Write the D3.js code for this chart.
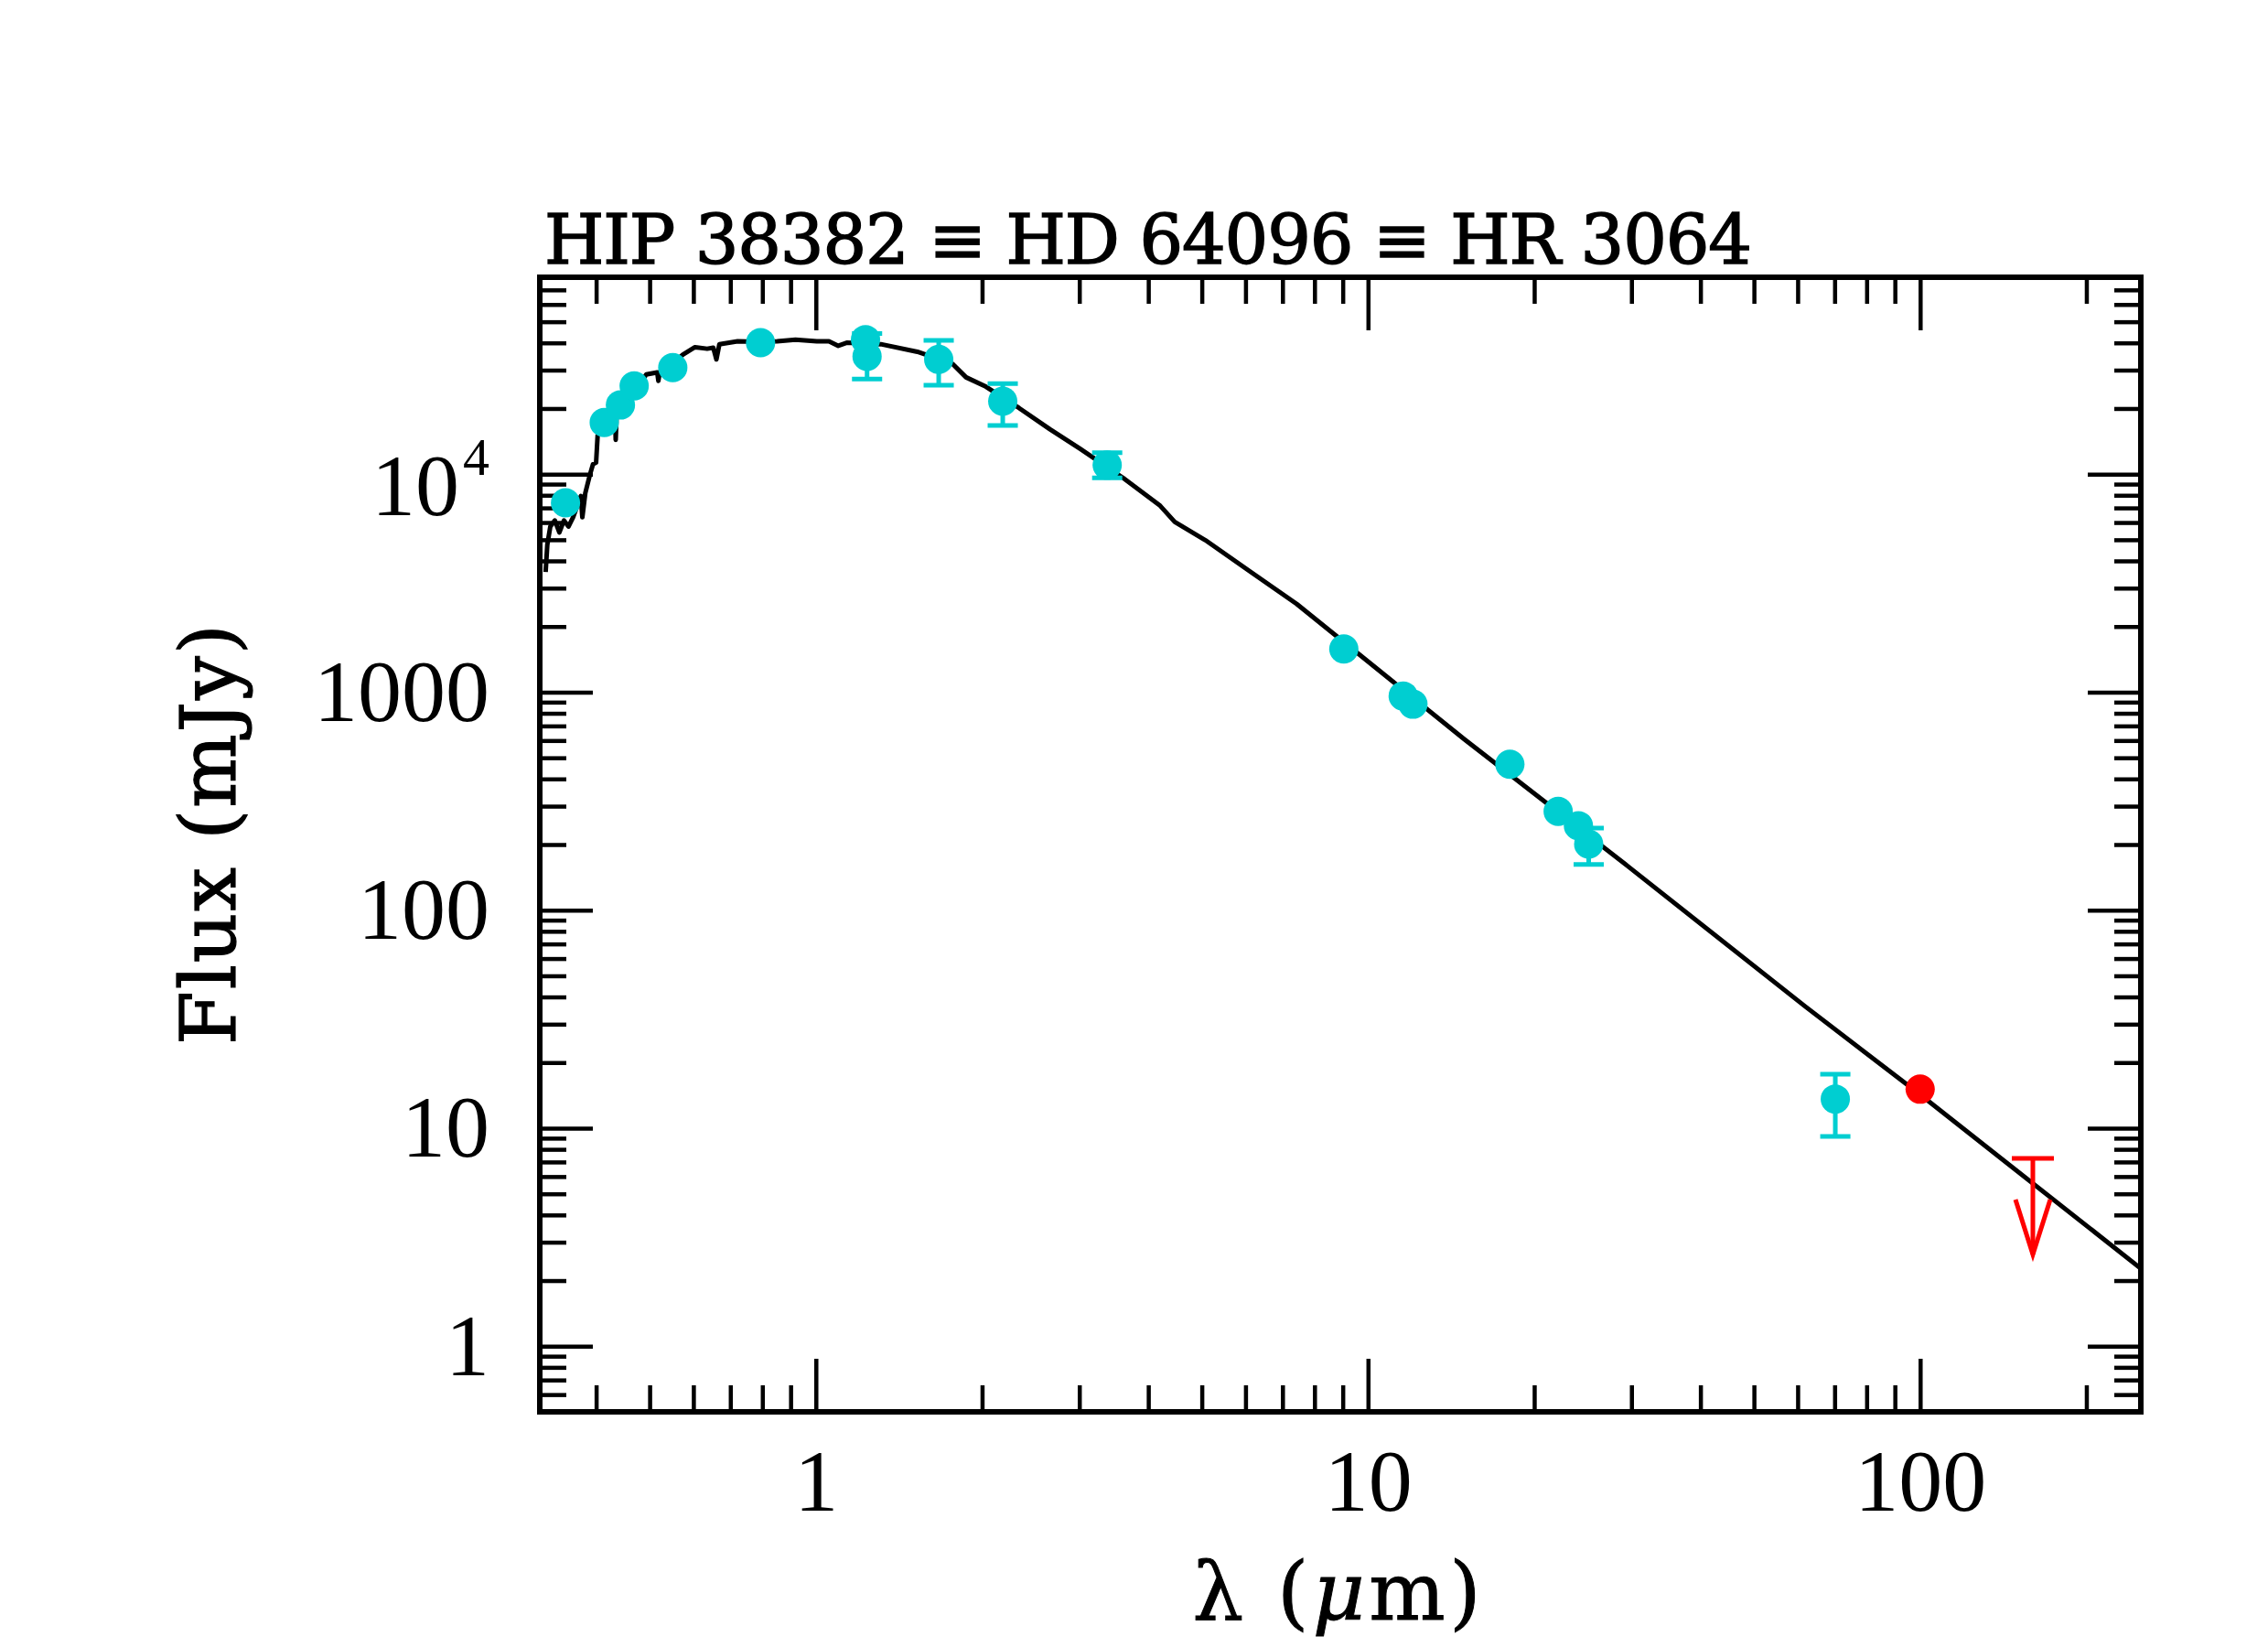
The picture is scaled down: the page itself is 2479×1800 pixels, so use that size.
<!DOCTYPE html>
<html>
<head>
<meta charset="utf-8">
<script src="https://cdn.jsdelivr.net/npm/d3@7"></script>
<style>
  body { margin: 0; background: #fff; }
  svg { display: block; }
</style>
</head>
<body>
<div id="chart"></div>
<script>
// photosphere model
var modelWave = [0.324, 0.3263, 0.3304, 0.3367, 0.3431, 0.3497, 0.3565, 0.3633, 0.3753, 0.3776,
  0.3823, 0.3897, 0.3948, 0.3999, 0.4025, 0.4102, 0.425, 0.433, 0.434, 0.4355,
  0.4426, 0.4687, 0.4928, 0.516, 0.5185, 0.5215, 0.5319, 0.5741, 0.604, 0.6355,
  0.652, 0.6605, 0.6687, 0.7216, 0.78, 0.8511, 0.9185, 1.004, 1.056, 1.098,
  1.14, 1.311, 1.527, 1.767, 1.871, 2.032, 2.334, 2.654, 3.013, 3.6,
  4.194, 4.466, 5.073, 6.137, 7.425, 14.93, 29.65, 61.9, 100, 250.6];
var modelFlux = [3556, 4750, 5750, 6130, 5400, 6130, 5750, 6340, 7930, 6340,
  8190, 9930, 11110, 11290, 15070, 16600, 17800, 18000, 14360, 18300,
  19500, 23500, 28640, 29300, 26800, 29400, 29580, 35300, 38200, 37600,
  38000, 33600, 39450, 40700, 40500, 40700, 41400, 40700, 40700, 38800,
  40100, 39450, 36400, 32100, 27800, 25200, 20100, 16070, 13040, 9610,
  7200, 6040, 4980, 3556, 2540, 609, 158, 36.2, 14.25, 2.28];

// photometry (cyan)
var photWave = [0.352, 0.4137, 0.4426, 0.4687, 0.5506, 0.794, 1.23, 1.238, 1.669, 2.18,
  3.37, 9.04, 11.58, 12.06, 18.07, 22.1, 24.05, 25.1, 70.2];
var photFlux = [7390, 17250, 20760, 25400, 30800, 40100, 41400, 34700, 33600, 21600,
  11000, 1578, 960, 881, 467, 284, 244, 201, 13.6];
var photLo = [null, null, null, null, null, null, null, 27300, 25600, 16700,
  9610, null, null, null, null, null, null, 162, 9.16];
var photHi = [null, null, null, null, null, null, null, 44150, 41100, 26000,
  12550, null, null, null, null, null, null, 238, 17.7];

// Herschel detection and upper limit (red)
var pacsWave = [100];
var pacsFlux = [15.1];
var limitWave = [160];
var limitFlux = [7.27];

var xLabels = [1, 10, 100];
var yLabels = [1, 10, 100, 1000, 10000];

var W = 2479, H = 1800;
var padL = 590, padR = 2340, padT = 303, padB = 1543;

var svg = d3.select('#chart').append('svg')
  .attr('width', W)
  .attr('height', H);

var x = d3.scaleLog().domain([0.3162, 251]).range([padL, padR]);
var y = d3.scaleLog().domain([0.5, 8e4]).range([padB, padT]);

var cyan = '#00CED1';
var red = '#FF0000';

svg.append('clipPath').attr('id', 'plotclip')
  .append('rect')
  .attr('x', padL).attr('y', padT)
  .attr('width', padR - padL).attr('height', padB - padT);

// axes: major + minor ticks on all four sides, pointing inwards
function minorOf(scale, majors) {
  var d = scale.domain();
  return scale.ticks().filter(function(t) {
    return majors.indexOf(t) < 0 && t > d[0] * 1.0001 && t < d[1] * 0.9999;
  });
}
var xMinor = minorOf(x, xLabels);
var yMinor = minorOf(y, yLabels);
var fmt = d3.format('d');

function styleAxis(g) {
  g.select('.domain').remove();
  g.selectAll('line').attr('stroke', '#000').attr('stroke-width', 4.5);
  g.selectAll('text')
    .attr('font-family', '"Liberation Serif", serif')
    .attr('font-size', 96)
    .attr('fill', '#000');
}

svg.append('g').attr('transform', 'translate(0,' + padB + ')')
  .call(d3.axisBottom(x).tickValues(xLabels).tickSize(-58).tickPadding(40).tickFormat(fmt))
  .call(styleAxis);
svg.append('g').attr('transform', 'translate(0,' + padB + ')')
  .call(d3.axisBottom(x).tickValues(xMinor).tickSize(-29).tickFormat(''))
  .call(styleAxis);
svg.append('g').attr('transform', 'translate(0,' + padT + ')')
  .call(d3.axisTop(x).tickValues(xLabels).tickSize(-58).tickFormat(''))
  .call(styleAxis);
svg.append('g').attr('transform', 'translate(0,' + padT + ')')
  .call(d3.axisTop(x).tickValues(xMinor).tickSize(-29).tickFormat(''))
  .call(styleAxis);

var yAxisG = svg.append('g').attr('transform', 'translate(' + padL + ',0)')
  .call(d3.axisLeft(y).tickValues(yLabels).tickSize(-58).tickPadding(55).tickFormat(fmt))
  .call(styleAxis);
svg.append('g').attr('transform', 'translate(' + padL + ',0)')
  .call(d3.axisLeft(y).tickValues(yMinor).tickSize(-29).tickFormat(''))
  .call(styleAxis);
svg.append('g').attr('transform', 'translate(' + padR + ',0)')
  .call(d3.axisRight(y).tickValues(yLabels).tickSize(-58).tickFormat(''))
  .call(styleAxis);
svg.append('g').attr('transform', 'translate(' + padR + ',0)')
  .call(d3.axisRight(y).tickValues(yMinor).tickSize(-29).tickFormat(''))
  .call(styleAxis);

// 10^4 label with superscript
yAxisG.selectAll('.tick text')
  .filter(function(d) { return d === 10000; })
  .text('10')
  .attr('dy', '0.46em')
  .append('tspan')
  .attr('font-size', 58)
  .attr('dx', 4)
  .attr('dy', -44)
  .text('4');

// model spectrum
var model = modelWave.map(function(w, i) { return [w, modelFlux[i]]; });
svg.append('path')
  .datum(model)
  .attr('clip-path', 'url(#plotclip)')
  .attr('fill', 'none')
  .attr('stroke', '#000')
  .attr('stroke-width', 5)
  .attr('stroke-linejoin', 'round')
  .attr('d', d3.line()
    .x(function(d) { return x(d[0]); })
    .y(function(d) { return y(d[1]); }));

// photometry error bars
var phot = photWave.map(function(w, i) {
  return { w: w, f: photFlux[i], lo: photLo[i], hi: photHi[i] };
});
var withErr = phot.filter(function(d) { return d.lo !== null; });
var capHalf = 16.5;

var eb = svg.append('g').attr('stroke', cyan).attr('stroke-width', 5);
eb.selectAll('line.stem').data(withErr).enter().append('line')
  .attr('class', 'stem')
  .attr('x1', function(d) { return x(d.w); })
  .attr('x2', function(d) { return x(d.w); })
  .attr('y1', function(d) { return y(d.lo); })
  .attr('y2', function(d) { return y(d.hi); });
eb.selectAll('line.caplo').data(withErr).enter().append('line')
  .attr('class', 'caplo')
  .attr('x1', function(d) { return x(d.w) - capHalf; })
  .attr('x2', function(d) { return x(d.w) + capHalf; })
  .attr('y1', function(d) { return y(d.lo); })
  .attr('y2', function(d) { return y(d.lo); });
eb.selectAll('line.caphi').data(withErr).enter().append('line')
  .attr('class', 'caphi')
  .attr('x1', function(d) { return x(d.w) - capHalf; })
  .attr('x2', function(d) { return x(d.w) + capHalf; })
  .attr('y1', function(d) { return y(d.hi); })
  .attr('y2', function(d) { return y(d.hi); });

svg.append('g').selectAll('circle').data(phot).enter().append('circle')
  .attr('cx', function(d) { return x(d.w); })
  .attr('cy', function(d) { return y(d.f); })
  .attr('r', 16)
  .attr('fill', cyan);

// Herschel point
svg.append('g').selectAll('circle').data(pacsWave).enter().append('circle')
  .attr('cx', function(d) { return x(d); })
  .attr('cy', function(d, i) { return y(pacsFlux[i]); })
  .attr('r', 16)
  .attr('fill', red);

// upper limit arrow
var lim = svg.append('g').attr('stroke', red).attr('stroke-width', 5).attr('fill', 'none');
limitWave.forEach(function(w, i) {
  var cx = x(w), cy = y(limitFlux[i]);
  var len = 105, headLen = 60, headHalf = 19;
  lim.append('line')
    .attr('x1', cx - 23).attr('x2', cx + 23)
    .attr('y1', cy).attr('y2', cy);
  lim.append('line')
    .attr('x1', cx).attr('x2', cx)
    .attr('y1', cy).attr('y2', cy + len);
  lim.append('path')
    .attr('d', 'M' + (cx - headHalf) + ',' + (cy + len - headLen) +
      'L' + cx + ',' + (cy + len) +
      'L' + (cx + headHalf) + ',' + (cy + len - headLen));
});

// frame
svg.append('rect')
  .attr('x', padL).attr('y', padT)
  .attr('width', padR - padL).attr('height', padB - padT)
  .attr('fill', 'none')
  .attr('stroke', '#000')
  .attr('stroke-width', 6);

// title and axis labels (slightly thickened to mimic the heavier plot font)
svg.append('text')
  .attr('x', 595).attr('y', 288)
  .attr('font-family', '"DejaVu Serif", serif')
  .attr('font-size', 75)
  .attr('stroke', '#000')
  .attr('stroke-width', 1.5)
  .attr('textLength', 1320)
  .attr('lengthAdjust', 'spacing')
  .text('HIP 38382 \u2261 HD 64096 \u2261 HR 3064');

svg.append('text')
  .attr('transform', 'translate(257,912) rotate(-90)')
  .attr('text-anchor', 'middle')
  .attr('font-family', '"DejaVu Serif", serif')
  .attr('font-size', 85)
  .attr('stroke', '#000')
  .attr('stroke-width', 1.2)
  .attr('textLength', 460)
  .attr('lengthAdjust', 'spacing')
  .text('Flux (mJy)');

var xl = svg.append('text')
  .attr('x', (padL + padR) / 2 - 4).attr('y', 1770)
  .attr('text-anchor', 'middle')
  .attr('font-family', '"DejaVu Serif", serif')
  .attr('font-size', 88)
  .attr('stroke', '#000')
  .attr('stroke-width', 1)
  .attr('textLength', 315)
  .attr('lengthAdjust', 'spacing');
xl.append('tspan').text('\u03bb (');
xl.append('tspan').attr('font-style', 'italic').text('\u03bc');
xl.append('tspan').text('m)');
</script>
</body>
</html>
